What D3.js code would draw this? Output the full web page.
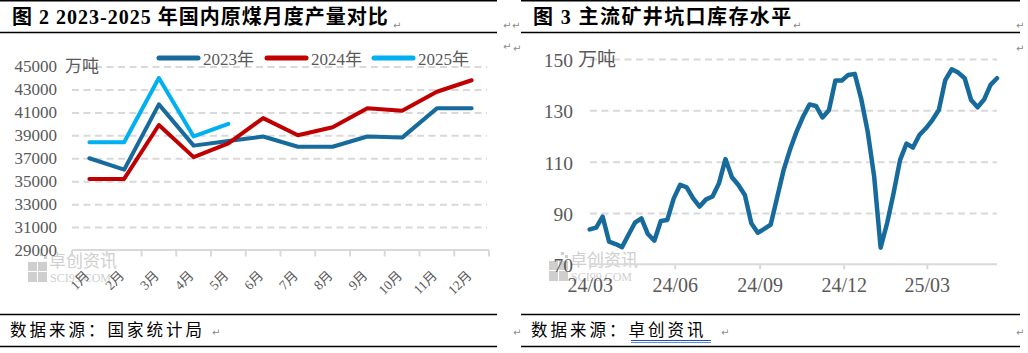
<!DOCTYPE html>
<html>
<head>
<meta charset="utf-8">
<script src="https://cdn.jsdelivr.net/npm/d3@7"></script>
<style>
  body { margin: 0; background: #fff; }
  svg text { font-family: "Liberation Serif", "Noto Sans CJK SC", serif; }
</style>
</head>
<body>
<div id="chart"></div>
<script>
// ---- left chart data: monthly raw coal output (万吨)
const months = ["1月", "2月", "3月", "4月", "5月", "6月", "7月", "8月", "9月", "10月", "11月", "12月"];
const output2023 = [37000, 36000, 41700, 38100, 38500, 38900, 38000, 38000, 38900, 38800, 41350, 41350];
const output2024 = [35200, 35200, 39900, 37100, 38300, 40500, 39000, 39700, 41350, 41150, 42800, 43800];
const output2025 = [38400, 38400, 44000, 38900, 40000];
const outputTicks = [29000, 31000, 33000, 35000, 37000, 39000, 41000, 43000, 45000];
const seriesNames = ["2023年", "2024年", "2025年"];
const seriesColors = ["#176b9c", "#c00000", "#00b0f0"];

// ---- right chart data: weekly pit-mouth inventory (万吨)
const stockDates = [
  "2024-03-01", "2024-03-08", "2024-03-15", "2024-03-22", "2024-03-29",
  "2024-04-05", "2024-04-12", "2024-04-19", "2024-04-26",
  "2024-05-03", "2024-05-10", "2024-05-17", "2024-05-24", "2024-05-31",
  "2024-06-07", "2024-06-14", "2024-06-21", "2024-06-28",
  "2024-07-05", "2024-07-12", "2024-07-19", "2024-07-26",
  "2024-08-02", "2024-08-09", "2024-08-16", "2024-08-23", "2024-08-30",
  "2024-09-06", "2024-09-13", "2024-09-20", "2024-09-27",
  "2024-10-04", "2024-10-11", "2024-10-18", "2024-10-25",
  "2024-11-01", "2024-11-08", "2024-11-15", "2024-11-22", "2024-11-29",
  "2024-12-06", "2024-12-13", "2024-12-20", "2024-12-27",
  "2025-01-03", "2025-01-10", "2025-01-17", "2025-01-24", "2025-01-31",
  "2025-02-07", "2025-02-14", "2025-02-21", "2025-02-28",
  "2025-03-07", "2025-03-14", "2025-03-21", "2025-03-28",
  "2025-04-04", "2025-04-11", "2025-04-18", "2025-04-25",
  "2025-05-02", "2025-05-09", "2025-05-16"
];
const stockValues = [
  83.6, 84.3, 88.6, 78.8, 77.9, 76.7, 81.5, 86.2, 87.9, 81.8,
  79.2, 86.9, 87.3, 95.7, 101.0, 100.0, 95.7, 92.5, 95.3, 96.4,
  101.6, 111.0, 103.9, 100.9, 97.0, 86.0, 82.3, 83.8, 85.5, 96.1,
  106.8, 114.8, 121.7, 127.5, 132.3, 131.7, 127.2, 130.0, 141.6, 141.6,
  143.8, 144.2, 134.4, 121.7, 104.2, 76.5, 86.0, 97.7, 110.6, 117.0,
  115.5, 120.4, 123.0, 126.2, 130.1, 141.8, 146.0, 144.7, 142.5, 134.0,
  131.2, 134.2, 139.9, 142.5
];
const stockTicks = [70, 90, 110, 130, 150];
const stockTickDates = ["2024-03-01", "2024-06-01", "2024-09-01", "2024-12-01", "2025-03-01"];

const parseDay = d3.timeParse("%Y-%m-%d");
const GRID = "#d9d9d9", LABEL = "#595959";

const svg = d3.select("#chart").append("svg")
    .attr("width", 1028)
    .attr("height", 353);

// ---- document frame (title rules, footer rules)
const panels = [[0, 497], [521, 1020]];
panels.forEach(([a, b]) => {
    [[0.7, 1.4], [32.5, 1.6], [314.5, 1.6], [346.5, 1.6]].forEach(([yy, w]) => {
        svg.append("line")
            .attr("x1", a).attr("x2", b).attr("y1", yy).attr("y2", yy)
            .attr("stroke", "#000").attr("stroke-width", w);
    });
});

svg.append("text").attr("x", 12).attr("y", 24)
    .attr("font-size", 20).attr("font-weight", "bold").attr("letter-spacing", 1)
    .text("图 2 2023-2025 年国内原煤月度产量对比");
svg.append("text").attr("x", 533).attr("y", 24)
    .attr("font-size", 20).attr("font-weight", "bold").attr("letter-spacing", 1.4)
    .text("图 3 主流矿井坑口库存水平");

svg.append("text").attr("x", 10).attr("y", 336)
    .attr("font-size", 16.5).attr("letter-spacing", 3)
    .style("font-family", "'Noto Sans CJK SC'")
    .text("数据来源：国家统计局");
svg.append("text").attr("x", 531).attr("y", 336)
    .attr("font-size", 16.5).attr("letter-spacing", 3)
    .style("font-family", "'Noto Sans CJK SC'")
    .text("数据来源：卓创资讯");
svg.append("line").attr("x1", 631).attr("x2", 711).attr("y1", 340.5).attr("y2", 340.5)
    .attr("stroke", "#1f4fd0").attr("stroke-width", 1);
svg.append("line").attr("x1", 631).attr("x2", 711).attr("y1", 342.5).attr("y2", 342.5)
    .attr("stroke", "#5a8ae6").attr("stroke-width", 1);

// little word-processor paragraph marks
const marks = [[393, 29], [503, 29], [503, 50], [512, 29], [793, 29], [1016, 29],
               [513, 52], [1016, 52], [212, 336], [513, 336], [721, 336], [1016, 336]];
svg.selectAll(".pmark").data(marks).join("text")
    .attr("class", "pmark")
    .attr("x", d => d[0]).attr("y", d => d[1])
    .attr("font-size", 10).attr("fill", "#8a8a8a")
    .style("font-family", "'DejaVu Sans'")
    .text("↵");

// watermark
function watermark(g, x0, y0) {
    const wm = g.append("g").attr("transform", `translate(${x0},${y0})`).attr("fill", "#cfcfcf");
    wm.append("rect").attr("x", 0).attr("y", 10).attr("width", 9).attr("height", 9);
    wm.append("rect").attr("x", 10).attr("y", 10).attr("width", 9).attr("height", 9);
    wm.append("rect").attr("x", 0).attr("y", 20).attr("width", 9).attr("height", 10);
    wm.append("rect").attr("x", 10).attr("y", 20).attr("width", 9).attr("height", 10);
    wm.append("rect").attr("x", 12).attr("y", 1).attr("width", 3).attr("height", 3);
    wm.append("rect").attr("x", 16).attr("y", 4).attr("width", 3).attr("height", 3);
    wm.append("text").attr("x", 21).attr("y", 15).attr("font-size", 17)
        .style("font-family", "'Noto Sans CJK SC'").text("卓创资讯");
    wm.append("text").attr("x", 22).attr("y", 30).attr("font-size", 12).text("SCI99.COM");
}

// =============== left chart ===============
const L = svg.append("g");
const x1 = d3.scaleBand().domain(months).range([72, 489]);
const y1 = d3.scaleLinear().domain([29000, 45000]).range([250, 66.5]);
const cx = m => x1(m) + x1.bandwidth() / 2;

watermark(L, 28, 252);

L.append("g").attr("transform", "translate(72,0)")
    .call(d3.axisLeft(y1).tickValues(outputTicks.slice(1)).tickSize(-415).tickFormat(""))
    .call(g => g.select(".domain").remove())
    .selectAll("line")
    .attr("stroke", GRID).attr("stroke-width", 2).attr("stroke-dasharray", "7,4.5");

L.append("g").attr("transform", "translate(72,0)")
    .call(d3.axisLeft(y1).tickValues(outputTicks).tickSize(0).tickPadding(15).tickFormat(d3.format("d")))
    .call(g => g.select(".domain").remove())
    .attr("font-family", null).attr("font-size", 17)
    .selectAll("text").attr("fill", LABEL);

L.append("text").attr("x", 65).attr("y", 72).attr("font-size", 17).attr("fill", LABEL)
    .style("font-family", "'Noto Sans CJK SC'").text("万吨");

L.append("line").attr("x1", 72).attr("x2", 489).attr("y1", 250).attr("y2", 250)
    .attr("stroke", GRID).attr("stroke-width", 2);
L.selectAll(".ctick").data(d3.range(months.length + 1)).join("line")
    .attr("class", "ctick")
    .attr("x1", i => x1.range()[0] + i * x1.step())
    .attr("x2", i => x1.range()[0] + i * x1.step())
    .attr("y1", 250).attr("y2", 256.5)
    .attr("stroke", GRID).attr("stroke-width", 2);

L.selectAll(".mlab").data(months).join("text")
    .attr("class", "mlab")
    .attr("transform", d => `translate(${cx(d) - 2.5},273) rotate(-45)`)
    .attr("text-anchor", "end").attr("dy", "0.35em")
    .attr("font-size", 13.5).attr("fill", LABEL)
    .text(d => d);

const line1 = d3.line().x((d, i) => cx(months[i])).y(d => y1(d));
[output2023, output2024, output2025].forEach((s, k) => {
    L.append("path").datum(s)
        .attr("d", line1)
        .attr("fill", "none")
        .attr("stroke", seriesColors[k])
        .attr("stroke-width", 4)
        .attr("stroke-linejoin", "round")
        .attr("stroke-linecap", "round");
});

// legend
const legendX = [157, 265, 372];
seriesNames.forEach((n, k) => {
    L.append("line").attr("x1", legendX[k] + 2).attr("x2", legendX[k] + 41)
        .attr("y1", 58).attr("y2", 58)
        .attr("stroke", seriesColors[k]).attr("stroke-width", 5).attr("stroke-linecap", "round");
    L.append("text").attr("x", legendX[k] + 46).attr("y", 65)
        .attr("font-size", 17).attr("fill", LABEL).text(n);
});

// =============== right chart ===============
const R = svg.append("g");
const stock = stockDates.map((d, i) => ({date: parseDay(d), value: stockValues[i]}));
const x2 = d3.scaleTime()
    .domain(d3.extent(stock, d => d.date))
    .range([589.7, 997]);
const y2 = d3.scaleLinear().domain([70, 150]).range([264.3, 59]);

watermark(R, 549, 251);

R.append("g").attr("transform", "translate(590,0)")
    .call(d3.axisLeft(y2).tickValues(stockTicks.slice(1)).tickSize(-407).tickFormat(""))
    .call(g => g.select(".domain").remove())
    .selectAll("line")
    .attr("stroke", GRID).attr("stroke-width", 2).attr("stroke-dasharray", "7,4.5");

R.append("g").attr("transform", "translate(590,0)")
    .call(d3.axisLeft(y2).tickValues(stockTicks).tickSize(0).tickPadding(17))
    .call(g => g.select(".domain").remove())
    .attr("font-family", null).attr("font-size", 19.5)
    .selectAll("text").attr("fill", LABEL).attr("dy", "0.38em");

R.append("text").attr("x", 578).attr("y", 66).attr("font-size", 19).attr("fill", LABEL)
    .style("font-family", "'Noto Sans CJK SC'").text("万吨");

R.append("g").attr("transform", "translate(0,264.3)")
    .call(d3.axisBottom(x2)
        .tickValues(stockTickDates.map(parseDay))
        .tickFormat(d3.timeFormat("%y/%m"))
        .tickSize(5).tickPadding(9))
    .attr("font-family", null).attr("font-size", 20)
    .call(g => g.select(".domain").attr("stroke", GRID).attr("stroke-width", 2)
        .attr("d", "M590,0H997"))
    .call(g => g.selectAll(".tick line").attr("stroke", GRID).attr("stroke-width", 2))
    .selectAll("text").attr("fill", LABEL);

R.append("path").datum(stock)
    .attr("d", d3.line().x(d => x2(d.date)).y(d => y2(d.value)))
    .attr("fill", "none")
    .attr("stroke", "#176b9c")
    .attr("stroke-width", 4.5)
    .attr("stroke-linejoin", "round")
    .attr("stroke-linecap", "round");
</script>
</body>
</html>
